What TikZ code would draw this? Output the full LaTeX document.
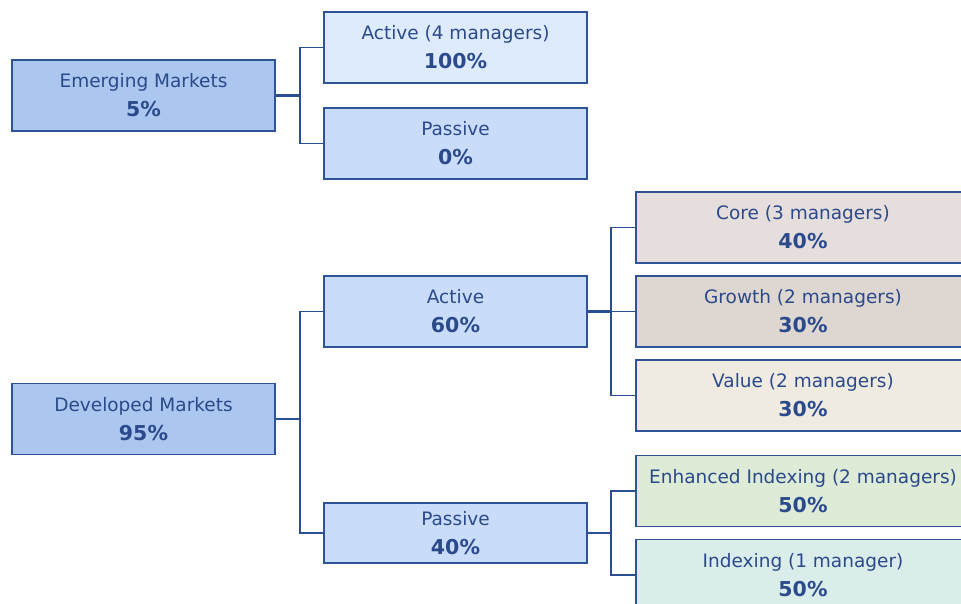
\documentclass[tikz,border=0pt]{standalone}
\usepackage{fontspec}
\setmainfont{DejaVu Sans}
\newcommand{\pct}[1]{{\fontsize{20.5}{29}\selectfont\bfseries #1}}
\begin{document}
\begin{tikzpicture}[x=1pt,y=-1pt,
  box/.style={draw=bordc,line width=1.5pt,minimum width=263pt,minimum height=71pt,inner sep=0pt,
    font=\fontsize{18.5}{29}\selectfont,text=txtc,align=center},
  conn/.style={draw=linec,line width=1.6pt},
  trunk/.style={draw=linec,line width=2.6pt}]
\definecolor{bordc}{HTML}{2E5396}
\definecolor{linec}{HTML}{2B4E92}
\definecolor{txtc}{HTML}{2B4A8B}
\definecolor{lvone}{HTML}{ABC6EF}
\definecolor{lvtwo}{HTML}{C9DCF9}
\definecolor{lvlight}{HTML}{DDEBFD}
\definecolor{corec}{HTML}{E6DEDD}
\definecolor{growc}{HTML}{DED6D0}
\definecolor{valc}{HTML}{F0EBE1}
\definecolor{enhc}{HTML}{DDEBD7}
\definecolor{idxc}{HTML}{DAEDEB}
\useasboundingbox (0,0) rectangle (961,604);
\node[box,fill=lvone] (em) at (143.5,95.5) {Emerging Markets\\\pct{5\%}};
\node[box,fill=lvlight] (ema) at (455.5,47.5) {Active (4 managers)\\\pct{100\%}};
\node[box,fill=lvtwo] (emp) at (455.5,143.5) {Passive\\\pct{0\%}};
\node[box,fill=lvone] (dm) at (143.5,419) {Developed Markets\\\pct{95\%}};
\node[box,fill=lvtwo] (dma) at (455.5,311.5) {Active\\\pct{60\%}};
\node[box,fill=lvtwo,minimum height=60pt] (dmp) at (455.5,533) {Passive\\\pct{40\%}};
\node[box,fill=corec,minimum width=334pt] (core) at (803,227.5) {Core (3 managers)\\\pct{40\%}};
\node[box,fill=growc,minimum width=334pt] (grow) at (803,311.5) {Growth (2 managers)\\\pct{30\%}};
\node[box,fill=valc,minimum width=334pt] (val) at (803,395.5) {Value (2 managers)\\\pct{30\%}};
\node[box,fill=enhc,minimum width=334pt] (enh) at (803,491) {Enhanced Indexing (2 managers)\\\pct{50\%}};
\node[box,fill=idxc,minimum width=334pt] (idx) at (803,575) {Indexing (1 manager)\\\pct{50\%}};
\coordinate (j1) at (300,95.5);
\coordinate (j2) at (300,419);
\coordinate (j3) at (611,311.5);
\coordinate (j4) at (611,533);
\draw[trunk] (em.east) -- (j1);
\draw[conn] (ema.west) -| (j1) |- (emp.west);
\draw[trunk] (dm.east) -- (j2);
\draw[conn] (dma.west) -| (j2) |- (dmp.west);
\draw[trunk] (dma.east) -- (j3);
\draw[conn] (core.west) -| (j3) |- (val.west);
\draw[conn] (grow.west) -- (j3);
\draw[trunk] (dmp.east) -- (j4);
\draw[conn] (enh.west) -| (j4) |- (idx.west);
\end{tikzpicture}
\end{document}
